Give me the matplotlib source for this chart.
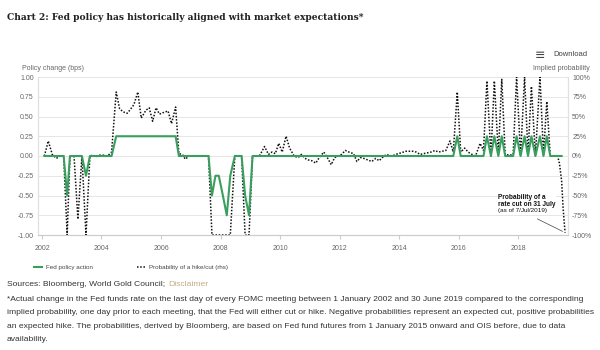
import matplotlib
matplotlib.use('Agg')
import matplotlib.pyplot as plt
import matplotlib.dates as mdates
import pandas as pd

plt.rcParams['font.family'] = ['Liberation Sans', 'DejaVu Sans']

# FOMC meeting dates 2002 - Jun 2019
meetings = [
    '2002-01-30', '2002-03-19', '2002-05-07', '2002-06-26', '2002-08-13', '2002-09-24', '2002-11-06', '2002-12-10',
    '2003-01-29', '2003-03-18', '2003-05-06', '2003-06-25', '2003-08-12', '2003-09-16', '2003-10-28', '2003-12-09',
    '2004-01-28', '2004-03-16', '2004-05-04', '2004-06-30', '2004-08-10', '2004-09-21', '2004-11-10', '2004-12-14',
    '2005-02-02', '2005-03-22', '2005-05-03', '2005-06-30', '2005-08-09', '2005-09-20', '2005-11-01', '2005-12-13',
    '2006-01-31', '2006-03-28', '2006-05-10', '2006-06-29', '2006-08-08', '2006-09-20', '2006-10-25', '2006-12-12',
    '2007-01-31', '2007-03-21', '2007-05-09', '2007-06-28', '2007-08-07', '2007-09-18', '2007-10-31', '2007-12-11',
    '2008-01-30', '2008-03-18', '2008-04-30', '2008-06-25', '2008-08-05', '2008-09-16', '2008-10-29', '2008-12-16',
    '2009-01-28', '2009-03-18', '2009-04-29', '2009-06-24', '2009-08-12', '2009-09-23', '2009-11-04', '2009-12-16',
    '2010-01-27', '2010-03-16', '2010-04-28', '2010-06-23', '2010-08-10', '2010-09-21', '2010-11-03', '2010-12-14',
    '2011-01-26', '2011-03-15', '2011-04-27', '2011-06-22', '2011-08-09', '2011-09-21', '2011-11-02', '2011-12-13',
    '2012-01-25', '2012-03-13', '2012-04-25', '2012-06-20', '2012-08-01', '2012-09-13', '2012-10-24', '2012-12-12',
    '2013-01-30', '2013-03-20', '2013-05-01', '2013-06-19', '2013-07-31', '2013-09-18', '2013-10-30', '2013-12-18',
    '2014-01-29', '2014-03-19', '2014-04-30', '2014-06-18', '2014-07-30', '2014-09-17', '2014-10-29', '2014-12-17',
    '2015-01-28', '2015-03-18', '2015-04-29', '2015-06-17', '2015-07-29', '2015-09-17', '2015-10-28', '2015-12-16',
    '2016-01-27', '2016-03-16', '2016-04-27', '2016-06-15', '2016-07-27', '2016-09-21', '2016-11-02', '2016-12-14',
    '2017-02-01', '2017-03-15', '2017-05-03', '2017-06-14', '2017-07-26', '2017-09-20', '2017-11-01', '2017-12-13',
    '2018-01-31', '2018-03-21', '2018-05-02', '2018-06-13', '2018-08-01', '2018-09-26', '2018-11-08', '2018-12-19',
    '2019-01-30', '2019-03-20', '2019-05-01', '2019-06-19',
]

# Fed policy action (lhs)
policy = [
    0, 0, 0, 0, 0, 0, -0.5, 0,
    0, 0, 0, -0.25, 0, 0, 0, 0,
    0, 0, 0, 0.25, 0.25, 0.25, 0.25, 0.25,
    0.25, 0.25, 0.25, 0.25, 0.25, 0.25, 0.25, 0.25,
    0.25, 0.25, 0.25, 0.25, 0, 0, 0, 0,
    0, 0, 0, 0, 0, -0.5, -0.25, -0.25,
    -0.5, -0.75, -0.25, 0, 0, 0, -0.5, -0.75,
    0, 0, 0, 0, 0, 0, 0, 0,
    0, 0, 0, 0, 0, 0, 0, 0,
    0, 0, 0, 0, 0, 0, 0, 0,
    0, 0, 0, 0, 0, 0, 0, 0,
    0, 0, 0, 0, 0, 0, 0, 0,
    0, 0, 0, 0, 0, 0, 0, 0,
    0, 0, 0, 0, 0, 0, 0, 0.25,
    0, 0, 0, 0, 0, 0, 0, 0.25,
    0, 0.25, 0, 0.25, 0, 0, 0, 0.25,
    0, 0.25, 0, 0.25, 0, 0.25, 0, 0.25,
    0, 0, 0, 0,
]

# implied probability of a hike/cut (rhs, %)
tail_dates = ['2019-05-24', '2019-06-19', '2019-07-07', '2019-07-31']
prob_dates = meetings[:-1] + tail_dates
prob = [
    0, 19, 2, -3, 0, 0, -100, 0,
    0, -80, 0, -100, 0, 1, -1, 1,
    1, 0, 5, 81, 60, 56, 54, 58,
    65, 81, 48, 58, 61, 44, 61, 53,
    55, 57, 41, 62, 3, 2, -4, 0,
    0, 0, 0, 0, 0, -100, -100, -100,
    -100, -100, -100, 0, 0, 0, -100, -100,
    0, 0, 1, 12, 2, 5, 3, 16,
    5, 25, 10, 0, -2, 2, -3, -5,
    -6, -9, -2, 5, -3, -11, -2, 0,
    2, 7, 5, 3, -7, -2, -3, -5,
    -7, -3, -6, -1, 2, 0, 1, 3,
    4, 6, 6, 6, 5, 2, 3, 4,
    5, 7, 5, 6, 7, 19, 5, 81,
    5, 10, 5, 2, 0, 16, 7, 95,
    0, 95, 2, 97, 2, 1, 2, 100,
    0, 100, 2, 88, 0, 100, 2, 69,
    0, 0, 0,
    -10, -32, -66, -97,
]

left_ticks = [-1.0, -0.75, -0.5, -0.25, 0.0, 0.25, 0.5, 0.75, 1.0]
right_ticks = [-100, -75, -50, -25, 0, 25, 50, 75, 100]
year_ticks = list(range(2002, 2019, 2))

green = '#3a9f5e'
grey_txt = '#666666'
axis_col = '#cccccc'

fig = plt.figure(figsize=(6, 3.5), dpi=100)
ax = fig.add_axes([38/600, 1-235/350, 530/600, 158/350])
ax2 = ax.twinx()

x_pol = pd.to_datetime(meetings)
x_prob = pd.to_datetime(prob_dates)

l2, = ax2.plot(x_prob, prob, color='#111111', lw=1.1, ls=(0, (1, 1.1)), zorder=3)
l1, = ax.plot(x_pol, policy, color=green, lw=1.5, zorder=4)
ax.set_zorder(ax2.get_zorder() + 1)
ax.patch.set_visible(False)

ax.set_ylim(-1, 1)
ax2.set_ylim(-100, 100)
ax.set_xlim(pd.Timestamp('2001-11-13'), pd.Timestamp('2019-09-05'))

ax.set_yticks(left_ticks)
ax.set_yticklabels(['%.2f' % v for v in left_ticks])
ax2.set_yticks(right_ticks)
ax2.set_yticklabels(['%d%%' % v for v in right_ticks])
ax.set_xticks([pd.Timestamp('%d-01-01' % y) for y in year_ticks])
ax.xaxis.set_major_formatter(mdates.DateFormatter('%Y'))

for a in (ax, ax2):
    a.tick_params(axis='y', length=0, labelsize=5, labelcolor=grey_txt, pad=3)
    for s in a.spines.values():
        s.set_color('#e0e0e0')
        s.set_linewidth(0.8)
    a.spines['top'].set_visible(False)
    a.spines['bottom'].set_color(axis_col)
ax.tick_params(axis='x', length=3, color=axis_col, labelsize=5, labelcolor=grey_txt, pad=4)
ax2.tick_params(axis='x', length=0)
ax2.grid(axis='y', color='#e6e6e6', lw=0.7)
ax2.set_axisbelow(True)

# annotation of last point
ax2.annotate('', xy=(x_prob[-1], prob[-1]), xytext=(pd.Timestamp('2018-07-25'), -78),
             arrowprops=dict(arrowstyle='-', color='#444444', lw=0.5))
ax.text(pd.Timestamp('2017-05-01'), -0.48, 'Probability of a\nrate cut on 31 July',
        fontsize=4.7, fontweight='bold', color='#111111', va='top', linespacing=1.1,
        bbox=dict(facecolor='white', edgecolor='none', pad=0.3))
ax.text(pd.Timestamp('2017-05-01'), -0.66, '(as of 7/Jul/2019)',
        fontsize=4.6, color='#111111', va='top',
        bbox=dict(facecolor='white', edgecolor='none', pad=0.3))

# header texts
fig.text(7/600, 1-20/350, 'Chart 2: Fed policy has historically aligned with market expectations*',
         family='DejaVu Serif', fontweight='bold', fontstretch='condensed', fontsize=7.3,
         color='#222222', va='baseline')
fig.text(545/600, 1-55/350, '\u2261', family='DejaVu Sans', fontsize=9, color='#444444',
         va='center', ha='right')
fig.text(553/600, 1-55/350, 'Download', fontsize=5.5, color='#444444', va='center')
fig.text(22/600, 1-69/350, 'Policy change (bps)', fontsize=5, color=grey_txt, va='center')
fig.text(590/600, 1-69/350, 'Implied probability', fontsize=5, color=grey_txt, va='center', ha='right')

# legend
fig.legend([l1, l2], ['Fed policy action', 'Probability of a hike/cut (rhs)'],
           loc='center left', bbox_to_anchor=(28/600, 1-267/350), ncol=2, frameon=False,
           fontsize=4.5, handlelength=1.4, handletextpad=0.6, columnspacing=7,
           labelcolor='#444444')

# sources and footnote
t1 = fig.text(7/600, 1-285/350, 'Sources: Bloomberg, World Gold Council;', fontsize=6.1,
              color='#333333', va='center')
ax.annotate('Disclaimer', xy=(1, 0.5), xycoords=t1, xytext=(2.5, 0), textcoords='offset points',
            fontsize=6.1, color='#c4ad80', va='center', annotation_clip=False)

foot = ('*Actual change in the Fed funds rate on the last day of every FOMC meeting between 1 January 2002 '
        'and 30 June 2019 compared to the corresponding\n'
        'implied probability, one day prior to each meeting, that the Fed will either cut or hike. '
        'Negative probabilities represent an expected cut, positive probabilities\n'
        'an expected hike. The probabilities, derived by Bloomberg, are based on Fed fund futures '
        'from 1 January 2015 onward and OIS before, due to data\n'
        'availability.')
fig.text(7/600, 1-296/350, foot, fontsize=6.1, color='#333333', va='top', linespacing=2.25)

fig.savefig('out.png', dpi=100)
